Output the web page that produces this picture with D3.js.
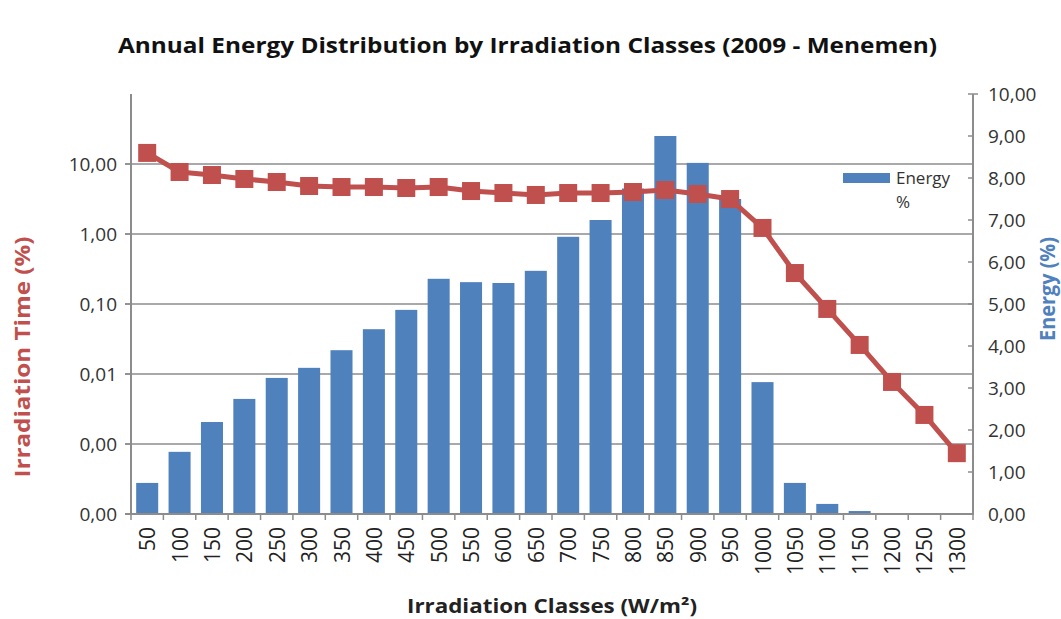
<!DOCTYPE html>
<html lang="en">
  <head>
    <meta charset="UTF-8" />
    <title>Annual Energy Distribution by Irradiation Classes</title>
    <style>
      body {
        margin: 0;
        background: #fff;
      }
      svg text {
        font-family: "Open Sans", sans-serif;
      }
    </style>
  </head>
  <body>
    <svg width="1061" height="619"></svg>

    <script src="https://cdn.jsdelivr.net/npm/d3@7"></script>

    <script>
      // irradiation classes (W/m2)
      const classes = ["50", "100", "150", "200", "250", "300", "350", "400", "450", "500",
        "550", "600", "650", "700", "750", "800", "850", "900", "950", "1000",
        "1050", "1100", "1150", "1200", "1250", "1300"];

      // energy share per class (%), right axis
      const energyPct = [0.74, 1.48, 2.19, 2.74, 3.24, 3.48, 3.9, 4.4, 4.86, 5.6,
        5.52, 5.5, 5.79, 6.6, 7.0, 7.75, 9.0, 8.36, 7.5, 3.14,
        0.74, 0.24, 0.07, 0.02, 0, 0];

      // irradiation time per class (%), left log axis
      const irradiationTime = [14.4, 7.69, 6.96, 6.11, 5.53, 4.85, 4.69, 4.69, 4.54, 4.69,
        4.11, 3.85, 3.61, 3.85, 3.85, 3.98, 4.25, 3.73, 3.16, 1.22,
        0.277, 0.085, 0.026, 0.0077, 0.0026, 0.00074];

      const leftTicks = [0.0001, 0.001, 0.01, 0.1, 1, 10];
      const rightTicks = [0, 1, 2, 3, 4, 5, 6, 7, 8, 9, 10];

      const red = "#C0504D",
        blue = "#4F81BD",
        grey = "#8C8C8C";

      var svg = d3.select("svg");
      // plot box (top is a reserved window name, so use plotTop)
      var plotLeft = 131, plotRight = 973, plotTop = 94, plotBottom = 514;

      var comma = d3.formatLocale({ decimal: ",", thousands: ".", grouping: [3], currency: ["", ""] });
      var fmt = comma.format(".2f");

      var x = d3.scaleBand().domain(classes).range([plotLeft, plotRight])
        .paddingInner(0.32).paddingOuter(0.16);
      var yLog = d3.scaleLog().domain([0.0001, 100]).range([plotBottom, plotTop]);
      var yLin = d3.scaleLinear().domain([0, 10]).range([plotBottom, plotTop]);

      // gridlines (log axis)
      svg.append("g").selectAll("line")
        .data(leftTicks.slice(1))
        .enter().append("line")
        .attr("x1", plotLeft - 6).attr("x2", plotRight)
        .attr("y1", d => yLog(d)).attr("y2", d => yLog(d))
        .attr("stroke", grey).attr("stroke-width", 1.5);

      // energy bars
      svg.append("g").selectAll("rect")
        .data(classes)
        .enter().append("rect")
        .attr("x", d => x(d))
        .attr("width", x.bandwidth())
        .attr("y", (d, i) => yLin(energyPct[i]))
        .attr("height", (d, i) => plotBottom - yLin(energyPct[i]))
        .attr("fill", blue);

      // axis lines
      var axes = svg.append("g").attr("stroke", grey).attr("stroke-width", 2);
      axes.append("line").attr("x1", plotLeft).attr("x2", plotLeft).attr("y1", plotTop).attr("y2", plotBottom + 1);
      axes.append("line").attr("x1", plotRight).attr("x2", plotRight).attr("y1", plotTop).attr("y2", plotBottom + 1);
      axes.append("line").attr("x1", plotLeft - 6).attr("x2", plotRight + 1).attr("y1", plotBottom).attr("y2", plotBottom);

      // left ticks + labels
      axes.selectAll(".lt").data(leftTicks).enter().append("line")
        .attr("x1", plotLeft - 6).attr("x2", plotLeft)
        .attr("y1", d => yLog(d)).attr("y2", d => yLog(d))
        .attr("stroke-width", 1.5);
      svg.append("g").selectAll("text")
        .data(leftTicks)
        .enter().append("text")
        .attr("x", 117)
        .attr("y", d => yLog(d) + 7)
        .attr("text-anchor", "end")
        .style("font-size", "19px")
        .attr("fill", "#333")
        .text(d => fmt(d));

      // right ticks + labels
      axes.selectAll(".rt").data(rightTicks).enter().append("line")
        .attr("x1", plotRight - 5).attr("x2", plotRight)
        .attr("y1", d => yLin(d)).attr("y2", d => yLin(d))
        .attr("stroke-width", 1.5);
      axes.append("line").attr("x1", plotRight).attr("x2", plotRight + 5)
        .attr("y1", plotTop).attr("y2", plotTop).attr("stroke-width", 1.5);
      svg.append("g").selectAll("text")
        .data(rightTicks)
        .enter().append("text")
        .attr("x", 988)
        .attr("y", d => yLin(d) + 7)
        .style("font-size", "19px")
        .attr("fill", "#333")
        .text(d => fmt(d));

      // x ticks at band edges
      var step = x.step();
      axes.selectAll(".xt").data(classes.concat([""])).enter().append("line")
        .attr("x1", (d, i) => plotLeft + i * step).attr("x2", (d, i) => plotLeft + i * step)
        .attr("y1", plotBottom).attr("y2", plotBottom + 6)
        .attr("stroke-width", 1.5);

      // x labels, rotated
      svg.append("g").selectAll("text")
        .data(classes)
        .enter().append("text")
        .attr("transform", d => "translate(" + (x(d) + x.bandwidth() / 2 + 8) + "," + 527 + ") rotate(-90)")
        .attr("text-anchor", "end")
        .style("font-size", "21px")
        .attr("fill", "#222")
        .text(d => d);

      // irradiation time line
      var line = d3.line()
        .x((d, i) => x(classes[i]) + x.bandwidth() / 2)
        .y(d => yLog(d));
      svg.append("path")
        .datum(irradiationTime)
        .attr("d", line)
        .attr("fill", "none")
        .attr("stroke", red)
        .attr("stroke-width", 5)
        .attr("stroke-linejoin", "round");
      svg.append("g").selectAll("rect")
        .data(irradiationTime)
        .enter().append("rect")
        .attr("x", (d, i) => x(classes[i]) + x.bandwidth() / 2 - 9)
        .attr("y", d => yLog(d) - 9)
        .attr("width", 18).attr("height", 18)
        .attr("fill", red);

      // legend
      svg.append("rect").attr("x", 843).attr("y", 173).attr("width", 47).attr("height", 10).attr("fill", blue);
      svg.append("text").attr("x", 896).attr("y", 184).style("font-size", "17px").attr("fill", "#333").text("Energy");
      svg.append("text").attr("x", 896).attr("y", 208).style("font-size", "17px").attr("fill", "#333").text("%");

      // titles
      svg.append("text")
        .attr("x", 118).attr("y", 53)
        .attr("textLength", 819).attr("lengthAdjust", "spacingAndGlyphs")
        .style("font-size", "21px").style("font-weight", "bold")
        .attr("fill", "#111")
        .text("Annual Energy Distribution by Irradiation Classes (2009 - Menemen)");

      svg.append("text")
        .attr("x", 407).attr("y", 613)
        .attr("textLength", 290).attr("lengthAdjust", "spacingAndGlyphs")
        .style("font-size", "19px").style("font-weight", "bold")
        .attr("fill", "#222")
        .text("Irradiation Classes (W/m²)");

      svg.append("text")
        .attr("transform", "translate(30,357) rotate(-90)")
        .attr("text-anchor", "middle")
        .attr("textLength", 241).attr("lengthAdjust", "spacingAndGlyphs")
        .style("font-size", "21px").style("font-weight", "bold")
        .attr("fill", red)
        .text("Irradiation Time (%)");

      svg.append("text")
        .attr("transform", "translate(1055,289) rotate(-90)")
        .attr("text-anchor", "middle")
        .attr("textLength", 104).attr("lengthAdjust", "spacingAndGlyphs")
        .style("font-size", "21px").style("font-weight", "bold")
        .attr("fill", blue)
        .text("Energy (%)");
    </script>
  </body>
</html>
